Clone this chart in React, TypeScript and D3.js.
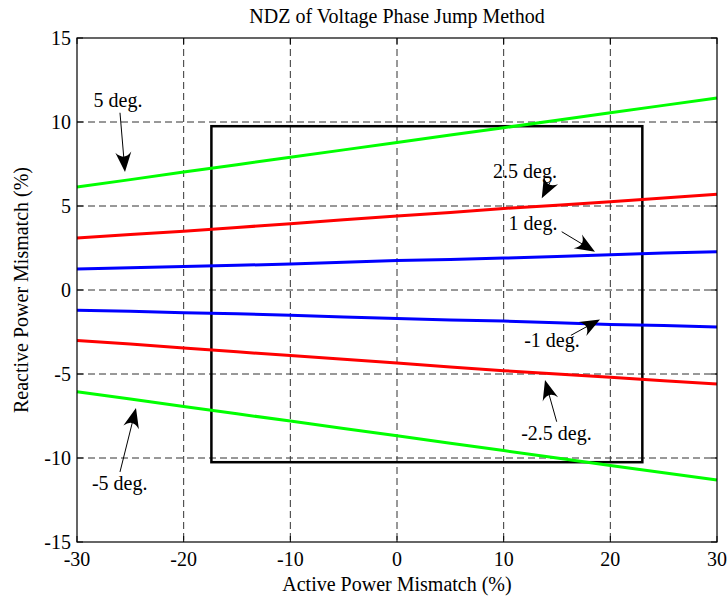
import React from 'react';
import * as d3 from 'd3';

const title = 'NDZ of Voltage Phase Jump Method';
const xLabel = 'Active Power Mismatch (%)';
const yLabel = 'Reactive Power Mismatch (%)';
const xTicks = [-30, -20, -10, 0, 10, 20, 30];
const yTicks = [-15, -10, -5, 0, 5, 10, 15];
const pMismatch = [-30, -25, -20, -15, -10, -5, 0, 5, 10, 15, 20, 25, 30];
const qPlus5 = [6.13, 6.57, 7.02, 7.46, 7.9, 8.34, 8.78, 9.22, 9.66, 10.1, 10.55, 10.99, 11.43];
const qPlus25 = [3.1, 3.3, 3.5, 3.72, 3.95, 4.18, 4.4, 4.62, 4.85, 5.05, 5.25, 5.48, 5.7];
const qPlus1 = [1.25, 1.32, 1.4, 1.47, 1.55, 1.65, 1.75, 1.82, 1.9, 2.0, 2.1, 2.2, 2.28];
const qMinus1 = [-1.2, -1.27, -1.35, -1.42, -1.5, -1.6, -1.7, -1.78, -1.85, -1.95, -2.05, -2.12, -2.2];
const qMinus25 = [-3.0, -3.22, -3.45, -3.68, -3.9, -4.12, -4.35, -4.58, -4.8, -5.0, -5.2, -5.4, -5.6];
const qMinus5 = [-6.05, -6.49, -6.93, -7.37, -7.8, -8.24, -8.68, -9.12, -9.56, -10.0, -10.44, -10.88, -11.31];
const ndzBox = { pMin: -17.4, pMax: 23.0, qMin: -10.25, qMax: 9.75 };

const series = [
  { name: '5 deg.', values: qPlus5, color: '#00ff00' },
  { name: '2.5 deg.', values: qPlus25, color: '#ff0000' },
  { name: '1 deg.', values: qPlus1, color: '#0000ff' },
  { name: '-1 deg.', values: qMinus1, color: '#0000ff' },
  { name: '-2.5 deg.', values: qMinus25, color: '#ff0000' },
  { name: '-5 deg.', values: qMinus5, color: '#00ff00' },
];

// annotation labels (data coordinates): text position, arrow tail, arrow tip
const labels = ['5 deg.', '2.5 deg.', '1 deg.', '-1 deg.', '-2.5 deg.', '-5 deg.'];
const labelPos = [[-26.16, 10.89], [12.0, 6.65], [12.75, 3.57], [14.53, -3.4], [14.95, -8.93], [-26.0, -11.9]];
const arrowTail = [[-25.97, 10.55], [14.34, 6.4], [15.44, 3.47], [16.3, -2.7], [14.97, -7.84], [-25.97, -10.83]];
const arrowTip = [[-25.5, 7.02], [13.57, 5.46], [18.56, 2.28], [19.03, -1.75], [13.875, -5.36], [-24.47, -7.02]];

const W = 728, H = 598;
const L = 77, R = 717, T = 38, B = 542;
const FONT = '"Liberation Serif", "Times New Roman", serif';

export default function App() {
  const x = d3.scaleLinear().domain([-30, 30]).range([L, R]);
  const y = d3.scaleLinear().domain([-15, 15]).range([B, T]);
  const line = d3.line<[number, number]>().x(d => x(d[0])).y(d => y(d[1]));

  const headL = 20, headW = 16;
  const arrows = labels.map((lab, i) => {
    const tx = x(arrowTail[i][0]), ty = y(arrowTail[i][1]);
    const px = x(arrowTip[i][0]), py = y(arrowTip[i][1]);
    const ang = Math.atan2(py - ty, px - tx);
    const len = Math.hypot(px - tx, py - ty);
    const stemEnd = Math.max(0, len - headL * 0.6);
    const head = `M0,0 L${-headL},${headW / 2} Q${-headL * 0.55},0 ${-headL},${-headW / 2} Z`;
    return (
      <g key={lab}>
        <line x1={tx} y1={ty} x2={tx + Math.cos(ang) * stemEnd} y2={ty + Math.sin(ang) * stemEnd} stroke="#000" strokeWidth={1} />
        <path d={head} transform={`translate(${px},${py}) rotate(${(ang * 180) / Math.PI})`} fill="#000" />
        <text x={x(labelPos[i][0])} y={y(labelPos[i][1])} textAnchor="middle" fontSize={20} fontFamily={FONT}>{lab}</text>
      </g>
    );
  });

  return (
    <div style={{ position: 'absolute', left: 0, top: 0 }}>
      <svg width={W} height={H} style={{ display: 'block', background: '#fff' }}>
        <rect x={0} y={0} width={W} height={H} fill="#fff" />
        {xTicks.slice(1, -1).map(t => (
          <line key={'gx' + t} x1={x(t)} x2={x(t)} y1={T} y2={B} stroke="#333" strokeWidth={1} strokeDasharray="7,4" />
        ))}
        {yTicks.slice(1, -1).map(t => (
          <line key={'gy' + t} x1={L} x2={R} y1={y(t)} y2={y(t)} stroke="#333" strokeWidth={1} strokeDasharray="7,4" />
        ))}
        <rect x={x(ndzBox.pMin)} y={y(ndzBox.qMax)} width={x(ndzBox.pMax) - x(ndzBox.pMin)} height={y(ndzBox.qMin) - y(ndzBox.qMax)} fill="none" stroke="#000" strokeWidth={2.5} />
        {series.map(s => (
          <path key={s.name} d={line(pMismatch.map((p, i) => [p, s.values[i]] as [number, number])) || ''} fill="none" stroke={s.color} strokeWidth={3} />
        ))}
        <rect x={L} y={T} width={R - L} height={B - T} fill="none" stroke="#000" strokeWidth={1.2} />
        {xTicks.map(t => (
          <g key={'tx' + t}>
            <line x1={x(t)} x2={x(t)} y1={B} y2={B - 6} stroke="#000" />
            <line x1={x(t)} x2={x(t)} y1={T} y2={T + 6} stroke="#000" />
            <text x={x(t)} y={566} textAnchor="middle" fontSize={20} fontFamily={FONT}>{t}</text>
          </g>
        ))}
        {yTicks.map(t => (
          <g key={'ty' + t}>
            <line x1={L} x2={L + 6} y1={y(t)} y2={y(t)} stroke="#000" />
            <line x1={R} x2={R - 6} y1={y(t)} y2={y(t)} stroke="#000" />
            <text x={71} y={y(t)} dy="0.35em" textAnchor="end" fontSize={20} fontFamily={FONT}>{t}</text>
          </g>
        ))}
        {arrows}
        <text x={(L + R) / 2} y={23} textAnchor="middle" fontSize={20} fontFamily={FONT}>{title}</text>
        <text x={(L + R) / 2} y={591} textAnchor="middle" fontSize={20} fontFamily={FONT}>{xLabel}</text>
        <text transform={`translate(28,${(T + B) / 2}) rotate(-90)`} textAnchor="middle" fontSize={20} fontFamily={FONT}>{yLabel}</text>
      </svg>
    </div>
  );
}
